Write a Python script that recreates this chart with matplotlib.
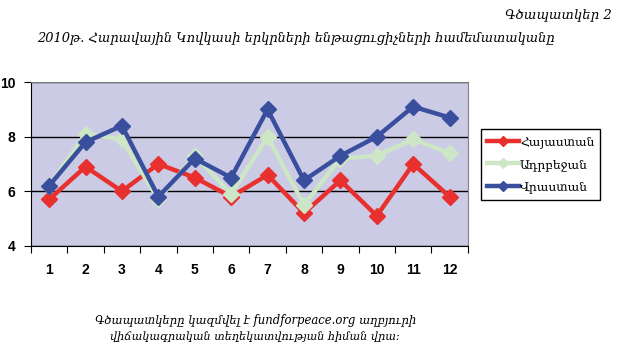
import matplotlib
matplotlib.use("Agg")
import matplotlib.pyplot as plt
from matplotlib.ticker import FixedLocator, NullFormatter

categories = [1, 2, 3, 4, 5, 6, 7, 8, 9, 10, 11, 12]
armenia = [5.7, 6.9, 6.0, 7.0, 6.5, 5.8, 6.6, 5.2, 6.4, 5.1, 7.0, 5.8]
azerbaijan = [6.2, 8.1, 7.9, 5.7, 7.3, 5.9, 8.0, 5.5, 7.2, 7.3, 7.9, 7.4]
georgia = [6.2, 7.8, 8.4, 5.8, 7.2, 6.5, 9.0, 6.4, 7.3, 8.0, 9.1, 8.7]
series_names = ["Հայաստան", "Ադրբեջան", "Վրաստան"]
yticks = [4, 6, 8, 10]

serif = ["DejaVu Serif"]
sans = ["Liberation Sans", "DejaVu Sans"]

fig = plt.figure(figsize=(6.18, 3.60), dpi=100)
ax = fig.add_axes([0.050, 0.317, 0.707, 0.455])
ax.set_facecolor("#CBCBE6")

colors = ["#E8302E", "#CCE6C6", "#3A4E9E"]
data = [armenia, azerbaijan, georgia]
lines = []
for i in range(3):
    ln, = ax.plot(categories, data[i], color=colors[i], lw=3.2, marker="D",
                  markersize=8.5, markeredgecolor=colors[i], label=series_names[i],
                  zorder=3 + i)
    lines.append(ln)

ax.set_xlim(0.5, 12.5)
ax.set_ylim(4, 10)
ax.set_yticks(yticks)
ax.set_yticklabels([str(v) for v in yticks], fontfamily=sans, fontweight="bold", fontsize=10)
ax.xaxis.set_major_locator(FixedLocator([c + 0.5 for c in [0] + categories]))
ax.xaxis.set_major_formatter(NullFormatter())
ax.xaxis.set_minor_locator(FixedLocator(categories))
ax.set_xticklabels([str(c) for c in categories], minor=True, fontfamily=sans,
                   fontweight="bold", fontsize=10)
ax.tick_params(axis="x", which="minor", length=0, pad=12)
ax.tick_params(axis="x", which="major", length=5, direction="out", color="black")
ax.tick_params(axis="y", length=5, direction="out", pad=6)
ax.grid(axis="y", color="black", lw=1.0)
ax.set_axisbelow(True)
for s in ["top", "right"]:
    ax.spines[s].set_color("#808080")
for s in ["left", "bottom"]:
    ax.spines[s].set_color("black")

leg = fig.legend(handles=lines, loc="upper left", bbox_to_anchor=(0.778, 0.642),
                 frameon=True, fancybox=False, edgecolor="black", framealpha=1,
                 prop={"family": serif, "size": 8.8}, handlelength=2.6,
                 handletextpad=0.1, borderpad=0.5, labelspacing=0.8,
                 markerscale=0.6, borderaxespad=0)
leg.get_frame().set_linewidth(1.0)

fig.text(0.99, 0.958, "Գծապատկեր 2", ha="right", va="center",
         fontfamily=serif, fontstyle="italic", fontsize=9.5)
fig.text(0.479, 0.897, "2010թ. Հարավային Կովկասի երկրների ենթացուցիչների համեմատականը",
         ha="center", va="center", fontfamily=serif, fontstyle="italic", fontsize=9.4)
fig.text(0.414, 0.111, "Գծապատկերը կազմվել է fundforpeace.org աղբյուրի",
         ha="center", va="center", fontfamily=serif, fontstyle="italic", fontsize=8.4)
fig.text(0.412, 0.066, "վիճակագրական տեղեկատվության հիման վրա:",
         ha="center", va="center", fontfamily=serif, fontstyle="italic", fontsize=8.1)

fig.savefig("out.png", dpi=100)
